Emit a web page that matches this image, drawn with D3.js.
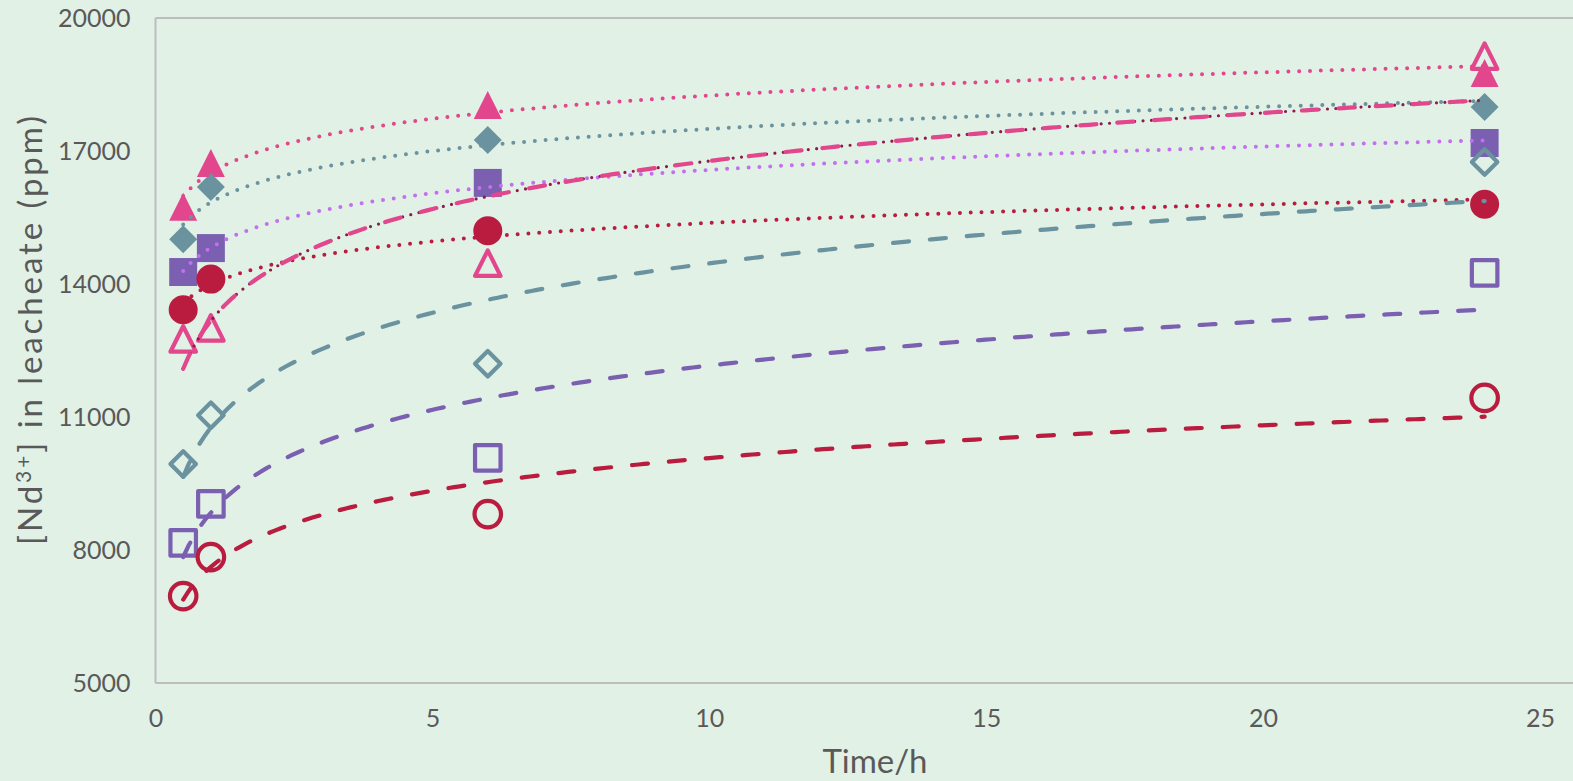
<!DOCTYPE html>
<html>
<head>
<meta charset="utf-8">
<script src="https://cdn.jsdelivr.net/npm/d3@7"></script>
<style>
  html, body { margin: 0; padding: 0; background: #e1f1e6; }
  svg { display: block; font-family: Lato, "Open Sans", sans-serif; }
  .tick text { fill: #595959; font-size: 25px; }
  .axis-label { fill: #595959; font-size: 33px; }
</style>
</head>
<body>
<svg id="chart" width="1573" height="781"></svg>
<script>
// Sampling times (h)
const times = [0.5, 1, 6, 24];

// Nd3+ in leachate (ppm)
const triangleFilled = [15740, 16730, 18040, 18760];
const diamondFilled  = [15010, 16190, 17250, 17990];
const squareFilled   = [14270, 14810, 16280, 17180];
const circleFilled   = [13420, 14110, 15200, 15800];
const triangleOpen   = [12760, 13010, 14470, 19140];
const diamondOpen    = [9940, 11040, 12200, 16750];
const squareOpen     = [8160, 9040, 10080, 14250];
const circleOpen     = [6960, 7840, 8810, 11430];

const xTicks = [0, 5, 10, 15, 20, 25];
const yTicks = [5000, 8000, 11000, 14000, 17000, 20000];

const svg = d3.select('#chart');
const width = +svg.attr('width');
const height = +svg.attr('height');

// plot area edges
const plotLeft = 155.5, plotRight = 1540, plotTop = 18, plotBottom = 683;

const xScale = d3.scaleLinear().domain([0, 25]).range([plotLeft, plotRight]);
const yScale = d3.scaleLinear().domain([5000, 20000]).range([plotBottom, plotTop]);

// series: data + how it is drawn
const series = [
  { values: triangleFilled, shape: 'triangle', filled: true,  color: '#e2468c', trend: [{ color: '#e2468c', style: 'dot' }] },
  { values: diamondFilled,  shape: 'diamond',  filled: true,  color: '#6b939f', trend: [{ color: '#6b939f', style: 'dot' }] },
  { values: squareFilled,   shape: 'square',   filled: true,  color: '#7b60b2', trend: [{ color: '#c46ef2', style: 'dot' }] },
  { values: circleFilled,   shape: 'circle',   filled: true,  color: '#b91c3f', trend: [{ color: '#b91c3f', style: 'dot' }] },
  { values: triangleOpen,   shape: 'triangle', filled: false, color: '#e2468c', trend: [{ color: '#8e1a4c', style: 'smalldot' }, { color: '#e2468c', style: 'dash' }] },
  { values: diamondOpen,    shape: 'diamond',  filled: false, color: '#6b939f', trend: [{ color: '#6b939f', style: 'dash' }] },
  { values: squareOpen,     shape: 'square',   filled: false, color: '#7b60b2', trend: [{ color: '#7b60b2', style: 'dash' }] },
  { values: circleOpen,     shape: 'circle',   filled: false, color: '#b91c3f', trend: [{ color: '#b91c3f', style: 'dash' }] }
];

const lineStyles = {
  dot:      { width: 4,   dash: '0 10.8' },
  smalldot: { width: 3.2, dash: '0 8.4' },
  dash:     { width: 4.2, dash: '16 21' }
};

// log trendline y = a ln(x) + b, least squares (like the spreadsheet trendline)
const logFit = values => {
  const lx = times.map(Math.log);
  const mx = d3.mean(lx), my = d3.mean(values);
  let sxy = 0, sxx = 0;
  lx.forEach((v, i) => { sxy += (v - mx) * (values[i] - my); sxx += (v - mx) * (v - mx); });
  const a = sxy / sxx;
  const b = my - a * mx;
  return x => a * Math.log(x) + b;
};

// marker paths centred on 0,0
const markerPath = (shape, s) => {
  const h = s / 2;
  if (shape === 'triangle') return `M0,${-h}L${h},${h}L${-h},${h}Z`;
  if (shape === 'diamond') return `M0,${-h}L${h},0L0,${h}L${-h},0Z`;
  if (shape === 'square') return `M${-h},${-h}H${h}V${h}H${-h}Z`;
  return d3.arc()({ innerRadius: 0, outerRadius: h, startAngle: 0, endAngle: 2 * Math.PI });
};

// frame of the plot area
const frame = svg.append('g').attr('stroke', '#bdbdbd').attr('stroke-width', 2).attr('fill', 'none');
frame.append('line').attr('x1', plotLeft).attr('x2', width).attr('y1', plotTop).attr('y2', plotTop);
frame.append('line').attr('x1', plotLeft).attr('x2', width).attr('y1', plotBottom).attr('y2', plotBottom);
frame.append('line').attr('x1', plotLeft).attr('x2', plotLeft).attr('y1', plotTop).attr('y2', plotBottom);

// axes (labels only, frame drawn above)
const yAxisG = svg.append('g')
  .attr('transform', `translate(${plotLeft},0)`)
  .call(d3.axisLeft(yScale).tickValues(yTicks).tickSize(0).tickPadding(25).tickFormat(d3.format('d')));
yAxisG.select('.domain').remove();

const xAxisG = svg.append('g')
  .attr('transform', `translate(0,${plotBottom})`)
  .call(d3.axisBottom(xScale).tickValues(xTicks).tickSize(0).tickPadding(26).tickFormat(d3.format('d')));
xAxisG.select('.domain').remove();

yAxisG.attr('font-family', null).attr('font-size', null);
xAxisG.attr('font-family', null).attr('font-size', null);

// markers: filled series first, hollow on top
series.forEach(s => {
  const g = svg.append('g');
  g.selectAll('path').data(s.values).enter().append('path')
    .attr('transform', (d, i) => `translate(${xScale(times[i])},${yScale(d)})`)
    .attr('d', s.filled ? markerPath(s.shape, s.shape === 'circle' ? 29 : 28) : markerPath(s.shape, s.shape === 'circle' ? 26.5 : 25.5))
    .attr('fill', s.filled ? s.color : 'none')
    .attr('stroke', s.filled ? 'none' : s.color)
    .attr('stroke-width', s.filled ? 0 : 4.2)
    .attr('stroke-linejoin', 'round');
});

// trendlines drawn above markers
const xs = d3.range(0, 241).map(i => 0.5 + i * (24 - 0.5) / 240);
const trendLine = d3.line().x(d => xScale(d[0])).y(d => yScale(d[1]));
series.forEach(s => {
  const f = logFit(s.values);
  const pts = xs.map(x => [x, f(x)]);
  s.trend.forEach(t => {
    const st = lineStyles[t.style];
    svg.append('path')
      .attr('d', trendLine(pts))
      .attr('fill', 'none')
      .attr('stroke', t.color)
      .attr('stroke-width', st.width)
      .attr('stroke-dasharray', st.dash)
      .attr('stroke-linecap', 'round');
  });
});

// axis titles
const xTitle = svg.append('text')
  .attr('class', 'axis-label')
  .attr('x', 875)
  .attr('y', 773)
  .attr('text-anchor', 'middle')
  .text('Time/h');
const xLen = xTitle.node().getComputedTextLength();
xTitle.attr('letter-spacing', (105 - xLen) / 6);

const yTitle = svg.append('text')
  .attr('class', 'axis-label')
  .attr('transform', 'translate(42,329) rotate(-90)')
  .attr('text-anchor', 'middle');
yTitle.append('tspan').text('[Nd');
yTitle.append('tspan').attr('dy', -11).attr('font-size', '21px').text('3+');
yTitle.append('tspan').attr('dy', 11).text('] in leacheate (ppm)');
// stretch to the reference title length
const yLen = yTitle.node().getComputedTextLength();
yTitle.attr('letter-spacing', (432 - yLen) / 25);
</script>
</body>
</html>
